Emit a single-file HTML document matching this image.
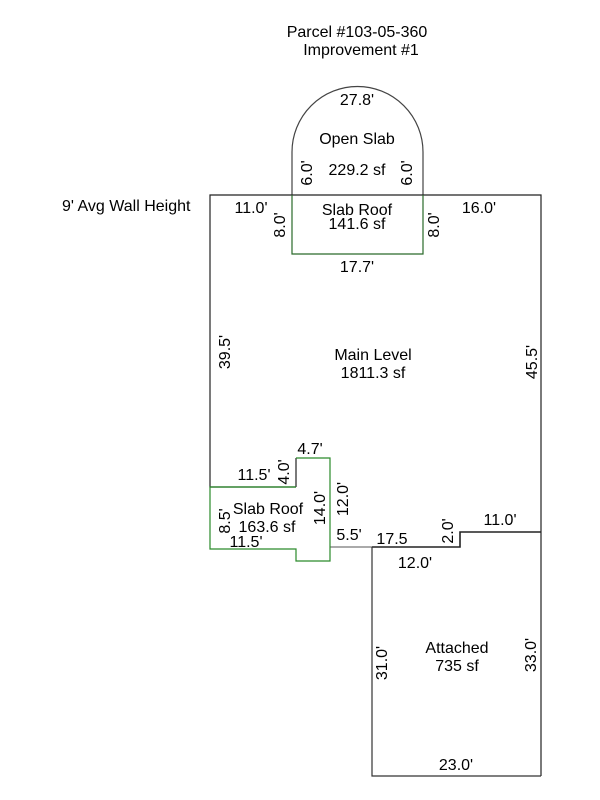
<!DOCTYPE html>
<html><head><meta charset="utf-8"><style>
html,body{margin:0;padding:0;background:#fff;}
svg{display:block;}
text{font-family:"Liberation Sans",Arial,sans-serif;font-size:16px;fill:#000;}
</style></head><body>
<svg width="600" height="800" viewBox="0 0 600 800" xmlns="http://www.w3.org/2000/svg">
<g fill="none" stroke-width="1.2">
<path d="M292,195 L292,152 A65.5,65.5 0 0 1 423,152 L423,195" stroke="#444"/>
<path d="M296,487 L210,487 L210,195 L541,195 L541,776" stroke="#222"/>
<path d="M296,487 L296,458" stroke="#222"/>
<path d="M330,547 L372,547" stroke="#777"/>
<path d="M372,547 L460,547 L460,532 L541,532" stroke="#222" stroke-width="1.6"/>
<path d="M372,547 L372,776 L541,776" stroke="#333"/>
<path d="M292,195 L292,254 L423,254 L423,195" stroke="#2a6a2a"/>
<path d="M296,458 L330,458 L330,561 L296,561 L296,549 L210,549 L210,487 L296,487" stroke="#2a8a2a"/>
</g>
<text x="357" y="37" text-anchor="middle">Parcel #103-05-360</text>
<text x="361" y="55" text-anchor="middle">Improvement #1</text>
<text x="62" y="211">9' Avg Wall Height</text>
<text x="357" y="105" text-anchor="middle">27.8'</text>
<text x="357" y="144" text-anchor="middle">Open Slab</text>
<text x="357" y="175" text-anchor="middle">229.2 sf</text>
<text transform="translate(312,173) rotate(-90)" text-anchor="middle">6.0'</text>
<text transform="translate(412,173) rotate(-90)" text-anchor="middle">6.0'</text>
<text x="357" y="215" text-anchor="middle">Slab Roof</text>
<text x="357" y="229" text-anchor="middle">141.6 sf</text>
<text x="251" y="213" text-anchor="middle">11.0'</text>
<text x="479" y="213" text-anchor="middle">16.0'</text>
<text transform="translate(285,225) rotate(-90)" text-anchor="middle">8.0'</text>
<text transform="translate(439,225) rotate(-90)" text-anchor="middle">8.0'</text>
<text x="357" y="272" text-anchor="middle">17.7'</text>
<text transform="translate(230,352) rotate(-90)" text-anchor="middle">39.5'</text>
<text transform="translate(537,362) rotate(-90)" text-anchor="middle">45.5'</text>
<text x="373" y="360" text-anchor="middle">Main Level</text>
<text x="373" y="378" text-anchor="middle">1811.3 sf</text>
<text x="310" y="454" text-anchor="middle">4.7'</text>
<text x="254" y="480" text-anchor="middle">11.5'</text>
<text transform="translate(289,472) rotate(-90)" text-anchor="middle">4.0'</text>
<text transform="translate(325,508) rotate(-90)" text-anchor="middle">14.0'</text>
<text transform="translate(348,499) rotate(-90)" text-anchor="middle">12.0'</text>
<text x="268" y="514" text-anchor="middle">Slab Roof</text>
<text x="267" y="532" text-anchor="middle">163.6 sf</text>
<text transform="translate(230,521) rotate(-90)" text-anchor="middle">8.5'</text>
<text x="246" y="547" text-anchor="middle">11.5'</text>
<text x="349" y="540" text-anchor="middle">5.5'</text>
<text x="392" y="544" text-anchor="middle">17.5</text>
<text transform="translate(453,531) rotate(-90)" text-anchor="middle">2.0'</text>
<text x="500" y="525" text-anchor="middle">11.0'</text>
<text x="415" y="568" text-anchor="middle">12.0'</text>
<text x="457" y="653" text-anchor="middle">Attached</text>
<text x="457" y="671" text-anchor="middle">735 sf</text>
<text transform="translate(387,663) rotate(-90)" text-anchor="middle">31.0'</text>
<text transform="translate(536,655) rotate(-90)" text-anchor="middle">33.0'</text>
<text x="456" y="770" text-anchor="middle">23.0'</text>
</svg>
</body></html>
